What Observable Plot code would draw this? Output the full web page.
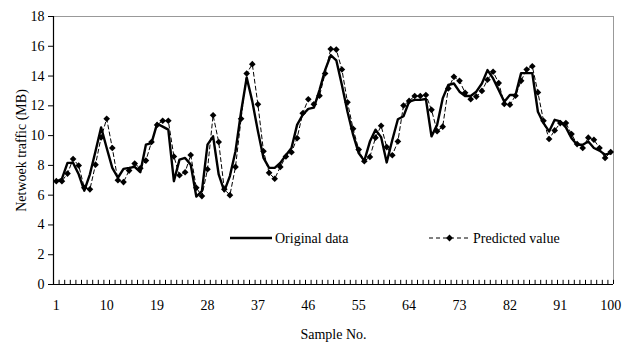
<!DOCTYPE html>
<html>
<head>
<meta charset="utf-8">
<script src="https://cdn.jsdelivr.net/npm/d3@7"></script>
<script src="https://cdn.jsdelivr.net/npm/@observablehq/plot@0.6"></script>
<style>
  body { margin: 0; background: #fff; }
  #wrap { position: relative; width: 629px; height: 347px; }
  #legend { position: absolute; left: 0; top: 0; pointer-events: none; }
</style>
</head>
<body>
<div id="wrap"></div>
<script>
const samples = d3.range(1, 101);
const originalData = [
  6.9, 7.1, 8.17, 8.17, 7.4, 6.3, 7.4, 8.95, 10.55, 9.17,
  7.83, 7.17, 7.77, 7.83, 7.9, 7.54, 9.39, 9.5, 10.8, 10.6,
  10.4, 6.94, 8.39, 8.5, 8.05, 5.9, 6.27, 9.39, 9.95, 7.39,
  6.27, 7.28, 8.95, 11.6, 13.9, 12.3, 10.3, 8.5, 7.83, 7.83,
  8.17, 8.68, 9.17, 10.72, 11.4, 11.8, 11.88, 13.06, 14.4, 15.4,
  15.06, 13.4, 11.6, 10.06, 8.83, 8.3, 9.6, 10.4, 9.9, 8.2,
  9.7, 11.1, 11.3, 12.28, 12.4, 12.4, 12.46, 9.95, 10.72, 12.5,
  13.4, 13.5, 12.95, 12.66, 12.66, 12.95, 13.5, 14.4, 13.84, 13.06,
  12.28, 12.73, 12.73, 14.2, 14.2, 14.2, 11.6, 10.84, 10.28, 11.06,
  10.95, 10.55, 9.83, 9.39, 9.39, 9.61, 9.17, 8.99, 8.72, 8.83
];
const predictedValue = [
  6.94, 6.94, 7.45, 8.43, 7.99, 6.5, 6.39, 8.05, 9.88, 11.13,
  9.17, 7.0, 6.88, 7.65, 8.12, 7.8, 8.32, 9.57, 10.72, 11.0,
  11.0, 8.6, 7.34, 7.54, 8.7, 6.5, 5.94, 7.74, 11.37, 9.57,
  6.4, 6.0, 7.9, 11.13, 14.17, 14.8, 12.1, 8.95, 7.5, 7.1,
  7.9, 8.6, 8.88, 9.83, 11.5, 12.44, 12.1, 12.68, 14.17, 15.82,
  15.78, 14.44, 12.24, 10.46, 9.06, 8.28, 8.57, 9.86, 10.66, 9.23,
  8.68, 9.61, 12.02, 12.33, 12.66, 12.66, 12.73, 11.73, 10.3, 10.6,
  13.17, 13.95, 13.68, 12.88, 12.44, 12.62, 13.0, 13.75, 14.29, 13.53,
  12.13, 12.08, 12.68, 13.68, 14.44, 14.66, 12.9, 11.0, 9.77, 10.35,
  10.84, 10.84, 10.1, 9.43, 9.17, 9.86, 9.72, 9.17, 8.5, 8.9
];
const xTickLabels = [1, 10, 19, 28, 37, 46, 55, 64, 73, 82, 91, 100];
const yTicks = [0, 2, 4, 6, 8, 10, 12, 14, 16, 18];
const seriesNames = ["Original data", "Predicted value"];
const xTitle = "Sample No.";
const yTitle = "Netwoek traffic (MB)";

const origRows = samples.map((s, i) => ({x: s, y: originalData[i]}));
const predRows = samples.map((s, i) => ({x: s, y: predictedValue[i]}));
const boundaries = d3.range(0.5, samples.length + 1, 1);

const FONT = '"Liberation Serif", "Times New Roman", serif';

const chart = Plot.plot({
  width: 629,
  height: 347,
  marginLeft: 53,
  marginRight: 16,
  marginTop: 16,
  marginBottom: 63,
  style: {fontFamily: FONT, fontSize: "14px", color: "#000", background: "#fff"},
  x: {domain: [0.5, samples.length + 0.5]},
  y: {domain: [0, 18]},
  marks: [
    Plot.ruleY([18], {stroke: "#999", strokeWidth: 1}),
    Plot.ruleX([samples.length + 0.5], {stroke: "#999", strokeWidth: 1}),
    Plot.ruleX(boundaries, {y1: 0, y2: 0.28, stroke: "#000", strokeWidth: 1}),
    Plot.axisY({ticks: yTicks, tickSize: 5, tickPadding: 4, label: null, fontSize: 14}),
    Plot.axisX({ticks: xTickLabels, tickSize: 0, tickPadding: 16, label: null, fontSize: 14}),
    Plot.line(predRows, {x: "x", y: "y", stroke: "#000", strokeWidth: 1, strokeDasharray: "4,3"}),
    Plot.line(origRows, {x: "x", y: "y", stroke: "#000", strokeWidth: 2.4}),
    Plot.dot(predRows, {x: "x", y: "y", symbol: "diamond2", r: 3, fill: "#000", stroke: "none"}),
    Plot.ruleX([0.5], {stroke: "#000", strokeWidth: 1.2}),
    Plot.ruleY([0], {stroke: "#000", strokeWidth: 1.2}),
    Plot.text([xTitle], {frameAnchor: "bottom", dy: 54, fontSize: 14, textAnchor: "middle"}),
    Plot.text([yTitle], {frameAnchor: "left", dx: -32, rotate: -90, fontSize: 14, textAnchor: "middle"})
  ]
});
const wrap = document.getElementById("wrap");
wrap.appendChild(chart);

// Legend (inside the plot area, as in the original)
const ns = "http://www.w3.org/2000/svg";
const leg = document.createElementNS(ns, "svg");
leg.setAttribute("id", "legend");
leg.setAttribute("width", 629);
leg.setAttribute("height", 347);
leg.style.fontFamily = FONT;
leg.style.fontSize = "14px";
const legendY = 238;
const items = [
  {x0: 230, x1: 272, dash: null, w: 2.4, marker: false, tx: 275, label: seriesNames[0]},
  {x0: 429, x1: 470, dash: "4,3", w: 1, marker: true, tx: 473, label: seriesNames[1]}
];
items.forEach(it => {
  const l = document.createElementNS(ns, "line");
  l.setAttribute("x1", it.x0); l.setAttribute("x2", it.x1);
  l.setAttribute("y1", legendY); l.setAttribute("y2", legendY);
  l.setAttribute("stroke", "#000"); l.setAttribute("stroke-width", it.w);
  if (it.dash) l.setAttribute("stroke-dasharray", it.dash);
  leg.appendChild(l);
  if (it.marker) {
    const cx = (it.x0 + it.x1) / 2;
    const p = document.createElementNS(ns, "path");
    p.setAttribute("d", `M${cx},${legendY - 3.4}L${cx + 3.4},${legendY}L${cx},${legendY + 3.4}L${cx - 3.4},${legendY}Z`);
    p.setAttribute("fill", "#000");
    leg.appendChild(p);
  }
  const t = document.createElementNS(ns, "text");
  t.setAttribute("x", it.tx); t.setAttribute("y", legendY);
  t.setAttribute("dy", "0.35em");
  t.textContent = it.label;
  leg.appendChild(t);
});
wrap.appendChild(leg);
</script>
</body>
</html>
